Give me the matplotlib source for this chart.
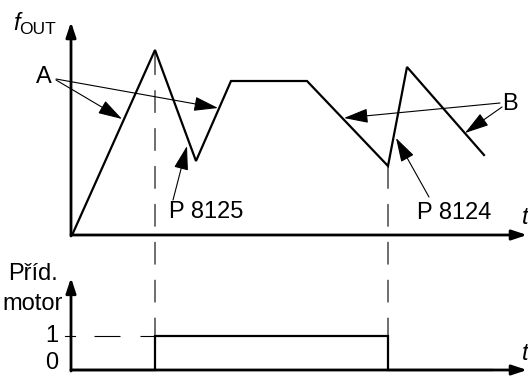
import matplotlib.pyplot as plt
from matplotlib.patches import ConnectionPatch

plt.rcParams['font.family'] = ['Liberation Sans', 'DejaVu Sans']
plt.rcParams['lines.scale_dashes'] = False

# Průběh výstupní frekvence (schéma, libovolné jednotky)
cas = [2, 84, 125, 160, 236, 317, 336, 413]
f_out = [2, 185, 74, 154, 154, 69, 168, 80]

# Přídavný motor (0 / 1)
cas_motor = [0, 84, 84, 317, 317, 421]
motor = [0, 0, 1, 1, 0, 0]

# Okamžiky zapnutí / vypnutí motoru
t_zap = 84
t_vyp = 317

W, H = 528, 378
fig = plt.figure(figsize=(W / 100, H / 100), dpi=100)
ax1 = fig.add_axes([71 / W, 143 / H, 457 / W, 235 / H])
ax2 = fig.add_axes([71 / W, 8 / H, 457 / W, 120 / H])
ax1.set_xlim(0, 457)
ax1.set_ylim(0, 235)
ax2.set_xlim(0, 457)
ax2.set_ylim(0, 120 / 34)
for ax in (ax1, ax2):
    ax.axis('off')

osa = dict(arrowstyle='-|>,head_length=0.9,head_width=0.3', lw=2.0, color='black',
           shrinkA=0, shrinkB=0, mutation_scale=10)
sipka = dict(arrowstyle='-|>,head_length=1.5,head_width=0.45', lw=0.8, color='black',
             shrinkA=0, shrinkB=0, mutation_scale=10)

# Osy
ax1.annotate('', xy=(0, 213), xytext=(0, -1), arrowprops=osa, annotation_clip=False)
ax1.annotate('', xy=(456, 0), xytext=(0, 0), arrowprops=osa, annotation_clip=False)
ax2.annotate('', xy=(0, 2.71), xytext=(0, -0.03), arrowprops=osa, annotation_clip=False)
ax2.annotate('', xy=(456, 0), xytext=(0, 0), arrowprops=osa, annotation_clip=False)

# Křivky
ax1.plot(cas, f_out, color='black', lw=1.6, solid_joinstyle='miter', clip_on=False)
ax2.plot(cas_motor, motor, color='black', lw=1.6, solid_joinstyle='miter', clip_on=False)

# Čárkované svislice přes oba grafy
for t, horni in [(t_zap, 185), (t_vyp, 69)]:
    cp = ConnectionPatch(xyA=(t, 1), coordsA=ax2.transData, xyB=(t, horni), coordsB=ax1.transData,
                         color='black', lw=0.8, linestyle=(2.9, (15.8, 11.5)))
    fig.add_artist(cp)

# Úroveň 1
ax2.plot([-6, 4], [1, 1], color='black', lw=0.8, clip_on=False)
ax2.plot([t_zap, 23], [1, 1], color='black', lw=0.8, dashes=[10.8, 14.4, 18.7, 200], clip_on=False)

# Popisky
fs = 17
ax1.text(-58, 205, 'f', fontsize=fs, style='italic', ha='left', va='baseline')
ax1.text(-52, 201, 'OUT', fontsize=12.5, ha='left', va='baseline')
ax1.text(-27, 158, 'A', fontsize=fs, ha='center', va='center')
ax1.annotate('', xy=(51, 116), xytext=(-15, 155), arrowprops=sipka, annotation_clip=False)
ax1.annotate('', xy=(147, 127), xytext=(-15, 156), arrowprops=sipka, annotation_clip=False)
ax1.text(439, 131, 'B', fontsize=fs, ha='center', va='center')
ax1.annotate('', xy=(273, 117), xytext=(429, 132), arrowprops=sipka, annotation_clip=False)
ax1.annotate('', xy=(394, 102), xytext=(431, 128), arrowprops=sipka, annotation_clip=False)
ax1.text(98, 23, 'P 8125', fontsize=fs, ha='left', va='center')
ax1.annotate('', xy=(116, 89), xytext=(102, 35), arrowprops=sipka, annotation_clip=False)
ax1.text(346, 22, 'P 8124', fontsize=fs, ha='left', va='center')
ax1.annotate('', xy=(325, 97), xytext=(358, 38), arrowprops=sipka, annotation_clip=False)
ax1.text(451, 18, 't', fontsize=fs, style='italic', ha='left', va='center')

ax2.text(-38, 2.82, 'Příd.', fontsize=fs, ha='center', va='center')
ax2.text(-38, 1.93, 'motor', fontsize=fs, ha='center', va='center')
ax2.text(-13, 1.0, '1', fontsize=fs, ha='right', va='center')
ax2.text(-13, 0.2, '0', fontsize=fs, ha='right', va='center')
ax2.text(451, 0.5, 't', fontsize=fs, style='italic', ha='left', va='center')

plt.savefig('out.png', dpi=100)
